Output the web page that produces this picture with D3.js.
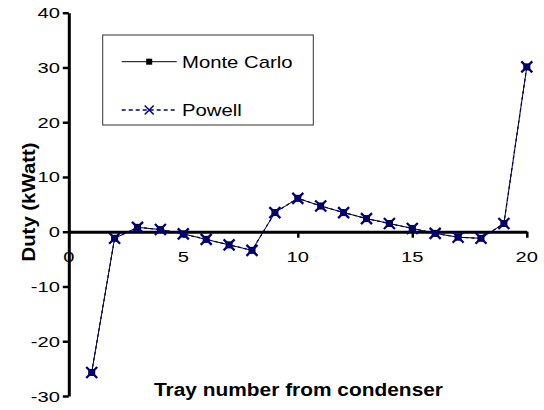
<!DOCTYPE html>
<html>
<head>
<meta charset="utf-8">
<script src="https://cdn.jsdelivr.net/npm/d3@7"></script>
<style>
  html, body { margin: 0; padding: 0; background: #fff; }
  svg { display: block; font-family: Arial, "Liberation Sans", sans-serif; }
</style>
</head>
<body>
<svg id="chart" width="544" height="410"></svg>
<script>
// Tray numbers counted from the condenser
const trays = [1, 2, 3, 4, 5, 6, 7, 8, 9, 10, 11, 12, 13, 14, 15, 16, 17, 18, 19, 20];
// Duty per tray (kWatt) from each method
const monteCarlo = [-25.7, -1.2, 0.8, 0.4, -0.4, -1.4, -2.4, -3.4, 3.5, 6.1, 4.7, 3.5, 2.4, 1.5, 0.6, -0.3, -1.0, -1.2, 1.5, 30.1];
const powell     = [-25.7, -1.2, 0.8, 0.4, -0.4, -1.4, -2.4, -3.4, 3.5, 6.1, 4.7, 3.5, 2.4, 1.5, 0.6, -0.3, -1.0, -1.2, 1.5, 30.1];
const xTicks = [0, 5, 10, 15, 20];
const yTicks = [-30, -20, -10, 0, 10, 20, 30, 40];
const seriesNames = ["Monte Carlo", "Powell"];

const svg = d3.select("#chart");
const x = d3.scaleLinear().domain([0, 20]).range([68.8, 526.8]);
const y = d3.scaleLinear().domain([-30, 40]).range([396, 12.7]);

const navy = "#000080";

// Y axis: spine at x = 0, ticks pointing left
const yAxis = svg.append("g")
  .attr("transform", `translate(${x(0)},0)`)
  .call(d3.axisLeft(y).tickValues(yTicks).tickSize(6).tickSizeOuter(0).tickFormat(""));
yAxis.select(".domain").attr("stroke", "#000").attr("stroke-width", 3);
yAxis.selectAll(".tick line").attr("stroke", "#000").attr("stroke-width", 2.5);

// X axis drawn along y = 0, ticks pointing down
const xAxis = svg.append("g")
  .attr("transform", `translate(0,${y(0)})`)
  .call(d3.axisBottom(x).tickValues(xTicks.filter(d => d > 0)).tickSize(6).tickSizeOuter(0).tickFormat(""));
xAxis.select(".domain").attr("stroke", "#000").attr("stroke-width", 3);
xAxis.selectAll(".tick line").attr("stroke", "#000").attr("stroke-width", 2.5);

// Helper for horizontally widened text
function label(g, tx, ty, txt, opts) {
  const t = g.append("text")
    .attr("transform", `translate(${tx},${ty}) ${opts.rotate ? "rotate(-90)" : ""} scale(${opts.sx || 1},1)`)
    .attr("text-anchor", opts.anchor || "start")
    .attr("font-size", opts.size)
    .attr("font-weight", opts.bold ? "bold" : "normal")
    .attr("fill", "#000")
    .text(txt);
  return t;
}

// Tick labels
const labels = svg.append("g");
yTicks.forEach(v => label(labels, 60, y(v) + 5.5, String(v), { size: 15.5, sx: 1.3, anchor: "end" }));
xTicks.forEach(v => label(labels, x(v), 261.5, String(v), { size: 15.5, sx: 1.3, anchor: "middle" }));

// Axis titles
label(svg, 298.5, 396, "Tray number from condenser", { size: 18.5, sx: 1.13, anchor: "middle", bold: true });
label(svg, 35, 202, "Duty (kWatt)", { size: 18.5, sx: 1.1, anchor: "middle", bold: true, rotate: true });

const line = d3.line().x((d, i) => x(trays[i])).y(d => y(d));

// Monte Carlo: solid black line, square markers
svg.append("path").datum(monteCarlo)
  .attr("d", line).attr("fill", "none").attr("stroke", "#000").attr("stroke-width", 1);
svg.append("g").selectAll("rect").data(monteCarlo).join("rect")
  .attr("x", (d, i) => x(trays[i]) - 3.5).attr("y", d => y(d) - 3.5)
  .attr("width", 7).attr("height", 7).attr("fill", "#000");

// Powell: dashed navy line, cross markers
svg.append("path").datum(powell)
  .attr("d", line).attr("fill", "none").attr("stroke", navy)
  .attr("stroke-width", 1.3).attr("stroke-dasharray", "3,3");
const cross = "M-5.5,-5.5L5.5,5.5M-5.5,5.5L5.5,-5.5";
svg.append("g").selectAll("path").data(powell).join("path")
  .attr("transform", (d, i) => `translate(${x(trays[i])},${y(d)})`)
  .attr("d", cross).attr("fill", "none").attr("stroke", navy).attr("stroke-width", 2.3);

// Legend
const lg = svg.append("g");
lg.append("rect").attr("x", 102.7).attr("y", 35).attr("width", 210.6).attr("height", 90)
  .attr("fill", "#fff").attr("stroke", "#333").attr("stroke-width", 1);
const legendRows = [61.7, 110];
// Monte Carlo entry
lg.append("line").attr("x1", 121.7).attr("x2", 176.7).attr("y1", legendRows[0]).attr("y2", legendRows[0])
  .attr("stroke", "#000").attr("stroke-width", 1);
lg.append("rect").attr("x", 149.2 - 3).attr("y", legendRows[0] - 3).attr("width", 6).attr("height", 6).attr("fill", "#000");
label(lg, 182, legendRows[0] + 6, seriesNames[0], { size: 16, sx: 1.27 });
// Powell entry
lg.append("line").attr("x1", 121.7).attr("x2", 176.7).attr("y1", legendRows[1]).attr("y2", legendRows[1])
  .attr("stroke", navy).attr("stroke-width", 1.5).attr("stroke-dasharray", "4,3");
lg.append("path").attr("transform", `translate(149.2,${legendRows[1]})`)
  .attr("d", "M-4.5,-4.5L4.5,4.5M-4.5,4.5L4.5,-4.5").attr("fill", "none").attr("stroke", navy).attr("stroke-width", 1.5);
label(lg, 182, legendRows[1] + 6, seriesNames[1], { size: 16, sx: 1.27 });
</script>
</body>
</html>
